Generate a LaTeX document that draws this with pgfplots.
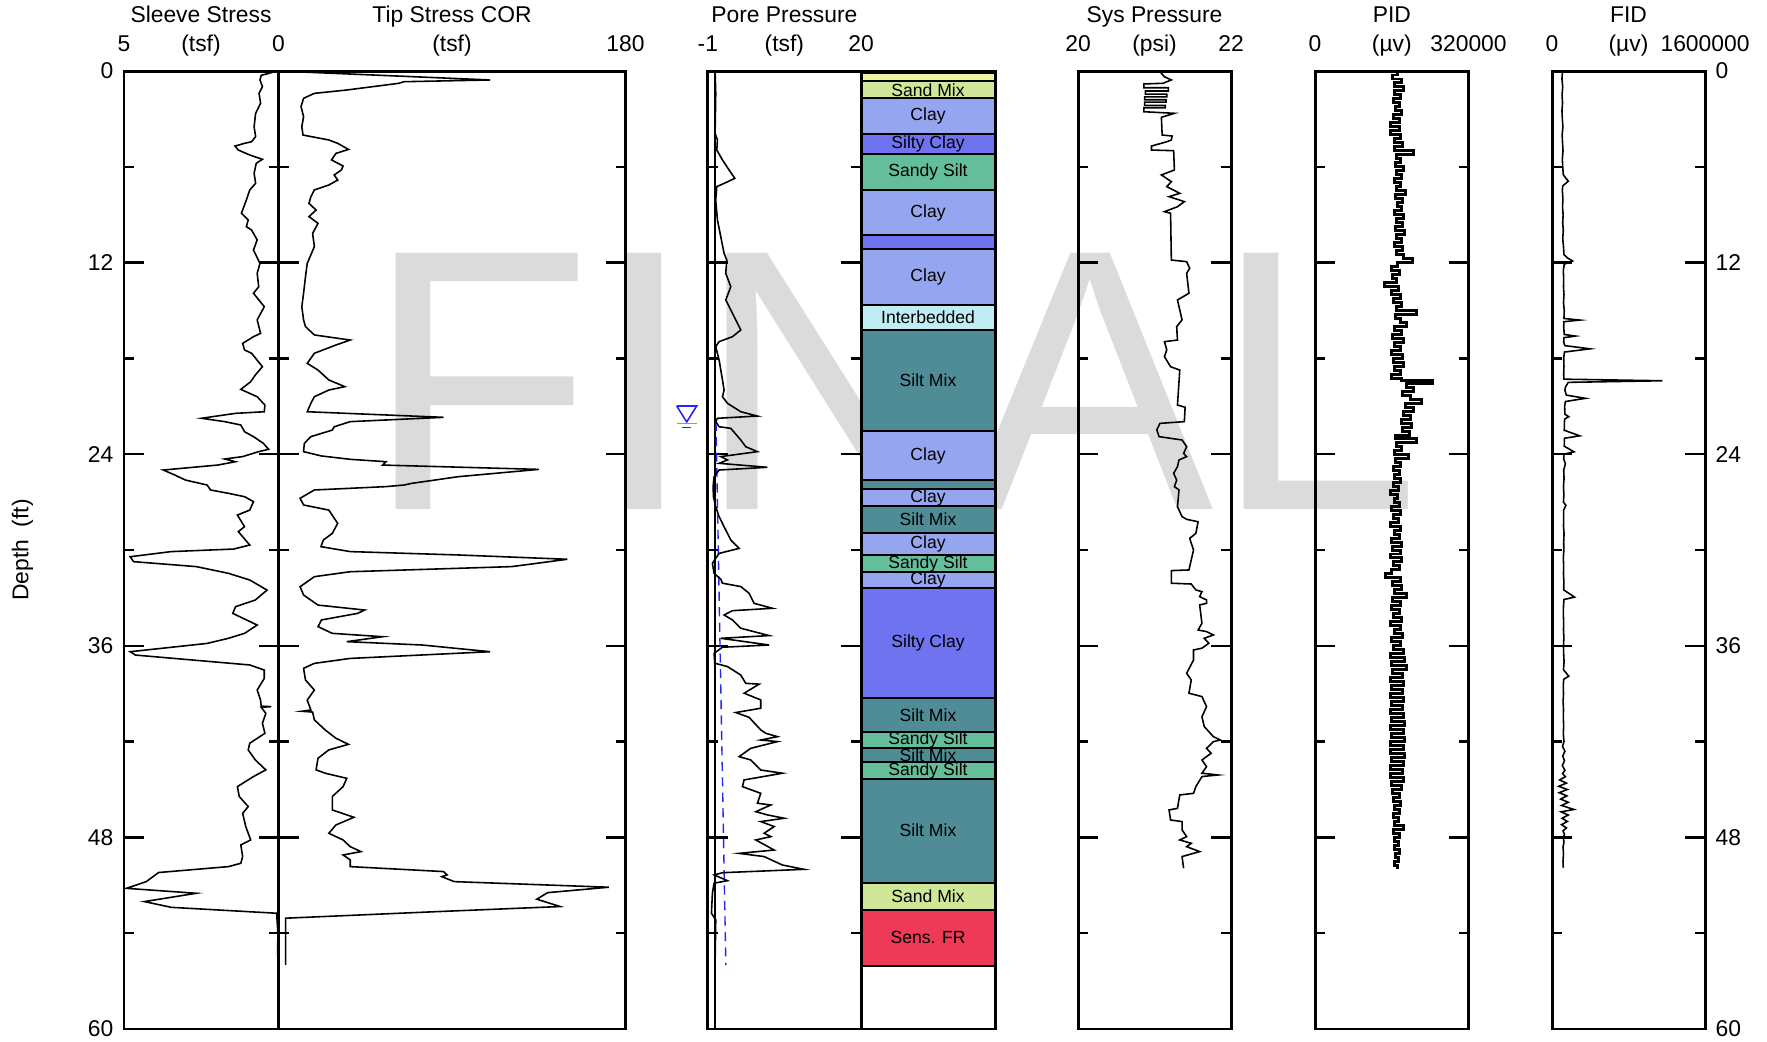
\documentclass[border=0pt]{standalone}
\usepackage{pgfplots}
\pgfplotsset{compat=1.18}
\usepackage{fontspec}
\setmainfont{Liberation Sans}
\definecolor{wm}{HTML}{DBDBDB}
\definecolor{cClay}{HTML}{95A5EF}
\definecolor{cSiltyClay}{HTML}{7073F0}
\definecolor{cSandySilt}{HTML}{64BE9B}
\definecolor{cSiltMix}{HTML}{4F8C96}
\definecolor{cInter}{HTML}{C0ECF4}
\definecolor{cSandMix}{HTML}{D0E698}
\definecolor{cSens}{HTML}{EE3A56}
\definecolor{cSand}{HTML}{F2F2A0}
\definecolor{wtblue}{HTML}{2626F2}
\newcommand\hdr{\fontsize{6.5}{7.8}\selectfont}
\newcommand\soil{\fontsize{5}{6}\selectfont}
\pgfplotsset{
  logpanel/.style={
    scale only axis, height=9.58cm,
    ymin=0, ymax=60, y dir=reverse,
    axis line style={line width=0.85pt},
    ytick={0,12,24,36,48,60}, minor ytick={6,18,30,42,54},
    yticklabels={}, xtick=\empty,
    tick align=inside, ytick pos=both, xtick pos=both,
    major tick length=0.2cm, minor tick length=0.1cm,
    tick style={black, line width=0.7pt},
    yticklabel style={font=\hdr, inner xsep=0.1cm, inner ysep=0pt},
    /pgf/number format/assume math mode=true,
    every axis plot/.append style={line width=0.45pt},
  },
  layer/.style={fill=#1, draw=black, line width=0.6pt},
}
\begin{document}
\begin{tikzpicture}
\path[use as bounding box] (0,0) rectangle (17.67,10.41);
% watermark
\node[text=wm, font=\fontsize{106}{110}\selectfont, inner sep=0pt, anchor=center] at (8.93,6.595) {FINAL};

% ---------------- Sleeve stress
\begin{axis}[logpanel, at={(1.24cm,9.70cm)}, anchor=north west, width=1.545cm,
  xmin=0, xmax=5, x dir=reverse,
  yticklabels={0,12,24,36,48,60}, yticklabel pos=left]
\addplot[black] table[x index=1, y index=0] {
0.00 0.02
0.27 0.56
0.56 0.60
0.98 0.52
1.40 0.63
2.02 0.58
2.65 0.74
3.49 0.79
4.11 0.74
4.43 0.87
4.53 1.10
4.70 1.41
4.95 1.30
5.26 0.93
5.53 0.52
5.78 0.72
6.41 0.79
7.03 0.74
7.45 0.93
8.08 1.04
8.91 1.20
9.33 0.98
9.75 1.04
9.96 0.87
10.58 0.69
11.21 0.81
12.05 0.60
12.67 0.69
13.51 0.64
13.92 0.81
14.76 0.46
15.59 0.69
16.43 0.58
16.64 0.81
17.06 1.16
17.47 1.10
17.68 0.87
18.52 0.52
19.04 0.75
19.46 0.90
19.94 1.22
20.40 0.69
20.92 0.44
21.34 0.46
21.44 1.39
21.75 2.49
21.96 1.74
22.17 1.22
22.59 1.10
22.90 0.81
23.32 0.49
23.69 0.32
23.84 0.64
24.15 1.16
24.30 1.74
24.47 1.39
24.68 1.97
24.99 3.73
25.30 3.36
25.62 3.01
25.93 2.31
26.24 2.20
26.45 1.62
26.66 1.10
26.97 0.81
27.50 0.93
27.81 1.33
28.54 1.10
28.85 1.30
29.69 0.93
29.94 1.45
30.10 3.47
30.42 4.80
30.73 4.69
31.04 2.66
31.46 1.62
31.88 0.93
32.51 0.37
33.13 0.75
33.55 1.39
33.97 1.48
34.70 0.69
35.22 1.10
35.53 1.62
35.85 2.31
36.37 4.80
36.58 4.63
37.20 0.93
37.52 0.46
38.04 0.46
38.77 0.69
39.40 0.58
39.78 0.56
39.81 0.23
39.85 0.56
40.23 0.41
40.85 0.52
41.48 0.44
42.10 0.93
42.52 0.98
43.15 0.75
43.77 0.41
44.19 0.81
44.82 1.33
45.44 1.27
46.07 0.98
46.49 1.16
47.32 1.06
48.16 0.90
48.47 1.22
49.20 1.16
49.62 1.22
49.83 1.62
50.20 3.88
50.77 4.28
51.19 4.92
51.50 2.66
52.02 4.34
52.38 3.47
52.75 0.06
54.00 0.02
55.47 0.03
};
\end{axis}

% ---------------- Tip stress
\begin{axis}[logpanel, at={(2.785cm,9.70cm)}, anchor=north west, width=3.47cm,
  xmin=0, xmax=180, minor xtick={18,36,54,72,90,108,126,144,162}]
\addplot[black] table[x index=1, y index=0] {
0.00 0.0
0.56 109.8
0.67 65.1
0.77 62.4
1.19 35.4
1.40 18.6
1.71 13.0
2.23 11.7
2.86 13.0
3.49 12.1
4.01 12.7
4.32 26.1
4.53 30.7
4.91 36.3
5.16 29.8
5.57 27.5
5.95 33.5
6.20 32.6
6.51 28.9
6.83 30.7
7.14 26.1
7.45 18.6
7.87 16.8
8.29 15.8
8.71 19.5
9.12 15.8
9.54 20.5
10.17 17.7
11.00 18.6
12.05 14.9
12.88 14.0
13.92 13.0
14.76 12.1
15.59 13.0
16.01 14.0
16.53 18.6
16.85 37.2
17.16 29.8
17.68 18.6
18.31 14.9
18.73 20.5
19.35 26.1
19.77 34.4
19.98 26.1
20.40 18.6
20.81 16.8
21.34 14.9
21.69 85.6
21.96 37.2
22.28 28.9
22.49 27.9
22.90 16.8
23.32 13.4
23.84 13.0
24.11 22.3
24.32 37.2
24.47 55.8
24.68 54.0
24.95 135.0
25.41 93.1
25.83 68.9
25.93 65.1
26.03 55.8
26.24 18.6
26.76 11.2
27.18 13.0
27.50 26.1
28.33 30.7
28.96 27.9
29.37 23.3
29.79 22.0
30.10 37.2
30.31 93.1
30.58 149.8
31.04 121.0
31.36 37.2
31.67 18.6
32.30 11.2
32.82 13.0
33.45 20.5
33.76 44.7
33.97 41.0
34.38 22.3
34.80 20.5
35.22 27.9
35.43 54.0
35.74 35.4
35.95 74.5
36.37 109.8
36.79 37.2
37.10 18.6
37.41 13.0
38.14 14.0
38.77 18.6
39.40 14.9
40.02 16.8
40.10 12.1
40.15 17.7
40.64 18.6
41.27 24.2
41.79 29.8
42.17 36.3
42.52 26.1
43.04 20.5
43.77 19.5
43.98 24.2
44.30 35.4
44.82 33.5
45.44 27.9
46.28 27.9
46.74 39.1
47.22 29.8
47.74 26.1
48.16 33.5
48.58 37.2
48.89 42.8
49.10 33.5
49.41 37.2
49.83 37.2
50.14 85.6
50.35 87.5
50.46 84.7
50.77 91.2
51.12 171.3
51.46 139.6
51.87 134.0
52.33 146.1
52.65 81.9
53.06 3.7
55.99 3.7
};
\end{axis}

% ---------------- Pore pressure
\begin{axis}[logpanel, at={(7.078cm,9.70cm)}, anchor=north west, width=1.532cm,
  xmin=-1, xmax=20, clip=false]
\addplot[black, line width=0.35pt] coordinates {(0,0) (0,60)};
\addplot[wtblue, dashed, dash pattern=on 2.6pt off 1.8pt, line width=0.4pt] coordinates {(0.12,21.96) (1.47,56.0)};
\addplot[wtblue, line width=0.45pt] coordinates {(-5.26,20.98) (-2.52,20.98) (-3.89,21.98) (-5.26,20.98)};
\addplot[wtblue!55, line width=0.5pt] coordinates {(-5.26,22.08) (-2.52,22.08)};
\addplot[wtblue, line width=0.45pt] coordinates {(-4.58,22.33) (-3.30,22.33)};
\addplot[black] table[x index=1, y index=0] {
0.00 0.00
1.40 0.09
3.90 0.00
4.32 0.32
4.95 0.23
5.57 1.01
6.20 1.92
6.72 2.70
6.99 1.46
7.24 0.23
8.08 0.09
9.33 0.32
10.38 0.78
11.42 1.23
11.84 1.60
12.67 1.46
13.51 2.15
14.34 1.46
15.18 2.38
16.22 3.52
16.64 2.38
16.95 0.55
17.26 0.09
18.10 0.55
18.73 0.78
19.35 1.01
19.98 1.23
20.40 1.01
20.81 1.69
21.34 3.52
21.61 5.80
21.75 0.32
21.96 0.09
22.28 0.55
22.38 2.15
23.11 3.52
23.53 4.20
23.84 5.80
24.15 0.78
24.36 1.69
24.57 0.55
24.82 7.17
24.99 0.55
25.41 -0.14
26.03 -0.27
26.66 -0.23
27.29 0.09
27.91 0.55
28.54 1.23
29.37 2.15
29.90 3.29
30.21 0.55
30.83 -0.37
31.46 -0.14
31.83 0.78
32.08 1.01
32.29 3.52
32.71 4.66
33.34 5.35
33.65 7.86
33.80 2.38
34.07 1.23
34.38 2.38
34.90 3.52
35.36 7.40
35.53 0.78
35.95 7.40
36.09 1.01
36.47 -0.14
37.09 -0.05
37.30 1.69
37.83 3.52
38.35 4.20
38.40 6.03
38.97 3.98
39.39 6.26
39.91 6.26
40.18 2.83
40.48 4.66
41.27 6.26
41.48 6.95
41.69 8.55
41.90 6.26
42.00 8.55
42.42 4.89
42.94 3.29
43.15 4.89
43.78 6.26
43.98 9.23
44.40 3.98
44.82 3.75
45.24 6.26
45.86 5.80
45.97 7.63
46.39 5.58
46.59 7.17
46.80 9.46
47.01 6.26
47.32 8.09
47.74 6.72
47.95 7.63
48.16 5.58
48.79 8.09
49.00 3.29
49.20 6.72
49.73 9.23
50.00 12.20
50.21 1.01
50.35 -0.14
50.71 1.69
50.87 -0.14
51.50 -0.37
52.75 -0.50
53.17 0.09
55.88 0.00
};
\end{axis}

% ---------------- Soil behaviour column
\begin{axis}[scale only axis, at={(8.61cm,9.70cm)}, anchor=north west, width=1.34cm, height=9.58cm,
  xmin=0, xmax=1, ymin=0, ymax=60, y dir=reverse, xtick=\empty, ytick=\empty,
  axis line style={line width=0.85pt}, axis on top]
\addplot[layer=cSand] coordinates {(0,0.15) (1,0.15) (1,0.65) (0,0.65) (0,0.15)};
\addplot[layer=cSandMix] coordinates {(0,0.65) (1,0.65) (1,1.71) (0,1.71) (0,0.65)};
\addplot[layer=cClay] coordinates {(0,1.71) (1,1.71) (1,3.97) (0,3.97) (0,1.71)};
\addplot[layer=cSiltyClay] coordinates {(0,3.97) (1,3.97) (1,5.22) (0,5.22) (0,3.97)};
\addplot[layer=cSandySilt] coordinates {(0,5.22) (1,5.22) (1,7.45) (0,7.45) (0,5.22)};
\addplot[layer=cClay] coordinates {(0,7.45) (1,7.45) (1,10.27) (0,10.27) (0,7.45)};
\addplot[layer=cSiltyClay] coordinates {(0,10.27) (1,10.27) (1,11.15) (0,11.15) (0,10.27)};
\addplot[layer=cClay] coordinates {(0,11.15) (1,11.15) (1,14.66) (0,14.66) (0,11.15)};
\addplot[layer=cInter] coordinates {(0,14.66) (1,14.66) (1,16.22) (0,16.22) (0,14.66)};
\addplot[layer=cSiltMix] coordinates {(0,16.22) (1,16.22) (1,22.53) (0,22.53) (0,16.22)};
\addplot[layer=cClay] coordinates {(0,22.53) (1,22.53) (1,25.62) (0,25.62) (0,22.53)};
\addplot[layer=cSiltMix] coordinates {(0,25.62) (1,25.62) (1,26.18) (0,26.18) (0,25.62)};
\addplot[layer=cClay] coordinates {(0,26.18) (1,26.18) (1,27.24) (0,27.24) (0,26.18)};
\addplot[layer=cSiltMix] coordinates {(0,27.24) (1,27.24) (1,28.91) (0,28.91) (0,27.24)};
\addplot[layer=cClay] coordinates {(0,28.91) (1,28.91) (1,30.33) (0,30.33) (0,28.91)};
\addplot[layer=cSandySilt] coordinates {(0,30.33) (1,30.33) (1,31.36) (0,31.36) (0,30.33)};
\addplot[layer=cClay] coordinates {(0,31.36) (1,31.36) (1,32.36) (0,32.36) (0,31.36)};
\addplot[layer=cSiltyClay] coordinates {(0,32.36) (1,32.36) (1,39.25) (0,39.25) (0,32.36)};
\addplot[layer=cSiltMix] coordinates {(0,39.25) (1,39.25) (1,41.38) (0,41.38) (0,39.25)};
\addplot[layer=cSandySilt] coordinates {(0,41.38) (1,41.38) (1,42.38) (0,42.38) (0,41.38)};
\addplot[layer=cSiltMix] coordinates {(0,42.38) (1,42.38) (1,43.30) (0,43.30) (0,42.38)};
\addplot[layer=cSandySilt] coordinates {(0,43.30) (1,43.30) (1,44.34) (0,44.34) (0,43.30)};
\addplot[layer=cSiltMix] coordinates {(0,44.34) (1,44.34) (1,50.83) (0,50.83) (0,44.34)};
\addplot[layer=cSandMix] coordinates {(0,50.83) (1,50.83) (1,52.55) (0,52.55) (0,50.83)};
\addplot[layer=cSens] coordinates {(0,52.55) (1,52.55) (1,56.03) (0,56.03) (0,52.55)};
\begin{scope}[every node/.style={font=\soil, inner sep=0pt}]
\node at (axis cs:0.5,1.18) {Sand Mix};
\node at (axis cs:0.5,2.84) {Clay};
\node at (axis cs:0.5,4.60) {Silty Clay};
\node at (axis cs:0.5,6.34) {Sandy Silt};
\node at (axis cs:0.5,8.86) {Clay};
\node at (axis cs:0.5,12.90) {Clay};
\node at (axis cs:0.5,15.44) {Interbedded};
\node at (axis cs:0.5,19.38) {Silt Mix};
\node at (axis cs:0.5,24.08) {Clay};
\node at (axis cs:0.5,26.71) {Clay};
\node at (axis cs:0.5,28.08) {Silt Mix};
\node at (axis cs:0.5,29.62) {Clay};
\node at (axis cs:0.5,30.85) {Sandy Silt};
\node at (axis cs:0.5,31.86) {Clay};
\node at (axis cs:0.5,35.80) {Silty Clay};
\node at (axis cs:0.5,40.32) {Silt Mix};
\node at (axis cs:0.5,41.88) {Sandy Silt};
\node at (axis cs:0.5,42.84) {Silt Mix};
\node at (axis cs:0.5,43.82) {Sandy Silt};
\node at (axis cs:0.5,47.58) {Silt Mix};
\node at (axis cs:0.5,51.69) {Sand Mix};
\node at (axis cs:0.5,54.29) {Sens. FR};
\end{scope}
\end{axis}

% ---------------- Sys pressure
\begin{axis}[logpanel, at={(10.78cm,9.70cm)}, anchor=north west, width=1.53cm,
  xmin=20, xmax=22]
\addplot[black] table[x index=1, y index=0] {
0.04 21.07
0.36 21.13
0.56 21.22
0.77 21.11
0.81 20.86
1.05 20.86
1.05 21.18
1.25 21.18
1.25 20.88
1.45 20.88
1.45 21.16
1.62 21.16
1.62 20.87
1.80 20.87
1.80 21.15
1.95 21.15
1.95 20.87
2.15 20.87
2.15 21.14
2.30 21.14
2.30 20.86
2.55 20.86
2.61 21.10
2.65 21.26
2.90 21.09
4.01 21.10
4.07 21.23
4.32 21.22
4.43 21.16
4.70 20.96
4.95 20.96
4.99 21.25
6.20 21.26
6.51 21.09
6.93 21.22
7.24 21.16
7.66 21.33
7.87 21.19
8.18 21.39
8.50 21.30
8.81 21.13
8.91 21.21
11.84 21.22
11.94 21.42
12.36 21.46
12.67 21.42
13.92 21.45
14.34 21.30
15.59 21.36
16.01 21.29
16.85 21.30
16.95 21.13
17.47 21.16
17.89 21.13
18.52 21.21
18.73 21.33
20.92 21.30
21.06 21.40
21.96 21.39
22.07 21.07
22.48 21.03
22.90 21.06
23.11 21.36
23.53 21.42
23.95 21.38
24.15 21.42
24.36 21.32
24.78 21.30
25.20 21.25
25.62 21.29
26.03 21.26
26.24 21.32
27.29 21.30
27.91 21.36
28.08 21.42
28.23 21.57
28.96 21.54
29.27 21.46
30.00 21.51
30.62 21.48
31.25 21.45
31.29 21.22
32.08 21.22
32.13 21.48
32.50 21.54
32.61 21.62
32.92 21.59
33.13 21.68
33.34 21.68
33.44 21.59
34.59 21.62
35.01 21.57
35.11 21.68
35.32 21.77
35.53 21.65
35.84 21.71
36.15 21.62
36.26 21.51
36.89 21.51
37.72 21.42
38.14 21.48
38.97 21.45
39.18 21.62
39.81 21.68
40.44 21.62
41.06 21.65
41.69 21.77
41.90 21.86
42.00 21.77
42.42 21.68
42.73 21.74
43.15 21.62
43.57 21.68
43.98 21.62
44.09 21.83
44.19 21.62
44.82 21.54
45.24 21.51
45.34 21.33
46.18 21.30
46.28 21.19
46.91 21.21
47.01 21.36
47.53 21.36
47.95 21.42
48.16 21.33
48.37 21.48
48.58 21.42
48.89 21.59
49.20 21.36
49.93 21.38
};
\end{axis}

% ---------------- PID
\begin{axis}[logpanel, at={(13.15cm,9.70cm)}, anchor=north west, width=1.535cm,
  xmin=0, xmax=320000]
\addplot[black, const plot mark right, line width=0.85pt] table[x index=1, y index=0] {
0.00 172000
0.25 162000
0.50 180000
0.75 165000
1.00 185000
1.25 166000
1.50 178000
1.75 164000
2.00 176000
2.25 168000
2.50 180000
2.75 163000
3.00 177000
3.25 158000
3.50 176000
3.75 157000
4.00 178000
4.25 165000
4.50 182000
4.75 166000
5.00 205000
5.25 170000
5.50 178000
5.75 168000
6.00 184000
6.25 170000
6.50 180000
6.75 166000
7.00 178000
7.25 170000
7.50 188000
7.75 168000
8.00 182000
8.25 172000
8.50 180000
8.75 166000
9.00 184000
9.25 170000
9.50 182000
9.75 168000
10.00 186000
10.25 170000
10.50 180000
10.75 166000
11.00 182000
11.25 170000
11.50 184000
11.75 203000
12.00 172000
12.25 160000
12.50 176000
12.75 162000
13.00 170000
13.25 145000
13.50 175000
13.75 160000
14.00 178000
14.25 163000
14.50 180000
14.75 170000
15.00 212000
15.25 168000
15.50 178000
15.75 190000
16.00 165000
16.25 180000
16.50 162000
16.75 184000
17.00 166000
17.25 178000
17.50 160000
17.75 182000
18.00 163000
18.25 185000
18.50 165000
18.75 178000
19.00 160000
19.25 180000
19.40 245000
19.60 190000
19.85 205000
20.10 182000
20.35 200000
20.60 222000
20.85 188000
21.10 206000
21.35 184000
21.60 198000
21.85 180000
22.10 202000
22.35 182000
22.60 196000
22.85 168000
23.00 212000
23.25 170000
23.50 180000
23.75 165000
24.00 195000
24.25 168000
24.50 178000
24.75 164000
25.00 176000
25.25 166000
25.50 178000
25.75 163000
26.00 174000
26.25 158000
26.50 172000
26.75 165000
27.00 176000
27.25 160000
27.50 178000
27.75 164000
28.00 174000
28.25 158000
28.50 178000
28.75 165000
29.00 176000
29.25 160000
29.50 180000
29.75 162000
30.00 178000
30.25 158000
30.50 180000
30.75 163000
31.00 176000
31.25 160000
31.50 147000
31.75 178000
32.00 162000
32.25 180000
32.50 165000
32.75 190000
33.00 162000
33.25 178000
33.50 160000
33.75 176000
34.00 164000
34.25 180000
34.50 158000
34.75 178000
35.00 166000
35.25 182000
35.50 160000
35.75 178000
36.00 164000
36.25 184000
36.50 158000
36.75 186000
37.00 160000
37.25 190000
37.50 162000
37.75 182000
38.00 158000
38.25 184000
38.50 160000
38.75 182000
39.00 157000
39.25 184000
39.50 160000
39.75 182000
40.00 158000
40.25 184000
40.50 160000
40.75 186000
41.00 157000
41.25 184000
41.50 160000
41.75 186000
42.00 158000
42.25 184000
42.50 157000
42.75 186000
43.00 160000
43.25 184000
43.50 158000
43.75 182000
44.00 157000
44.25 184000
44.50 160000
44.75 180000
45.00 162000
45.25 176000
45.50 164000
45.75 178000
46.00 166000
46.25 176000
46.50 163000
46.75 175000
47.00 166000
47.25 184000
47.50 164000
47.75 176000
48.00 166000
48.25 174000
48.50 165000
48.75 176000
49.00 167000
49.25 174000
49.50 166000
49.75 172000
49.90 168000
};
\end{axis}

% ---------------- FID
\begin{axis}[logpanel, at={(15.52cm,9.70cm)}, anchor=north west, width=1.53cm,
  xmin=0, xmax=1600000,
  yticklabels={0,12,24,36,48,60}, yticklabel pos=right]
\addplot[black] table[x index=1, y index=0] {
0.0 110000
0.5 104000
1.0 112000
1.5 105000
2.0 110000
2.5 104000
3.0 108000
3.5 114000
4.0 106000
4.5 110000
5.0 115000
5.5 108000
6.0 112000
6.5 118000
6.9 170000
7.2 112000
7.5 108000
8.0 114000
8.5 110000
9.0 116000
9.5 112000
10.0 118000
10.5 112000
11.0 120000
11.5 125000
11.7 160000
11.9 215000
12.1 128000
12.5 118000
13.0 122000
13.5 120000
14.0 125000
14.5 120000
15.0 128000
15.5 125000
15.6 290000
15.7 125000
16.0 122000
16.5 128000
16.6 245000
16.7 125000
17.0 122000
17.2 135000
17.4 398000
17.6 130000
18.0 122000
18.5 125000
19.0 122000
19.3 125000
19.4 1155000
19.5 170000
19.8 140000
20.0 135000
20.3 150000
20.5 350000
20.7 140000
21.0 132000
21.5 135000
21.65 175000
21.8 132000
22.0 130000
22.5 128000
22.85 290000
23.0 130000
23.5 128000
23.85 230000
24.0 125000
24.3 122000
24.6 140000
25.0 122000
25.5 126000
26.0 120000
26.5 124000
27.0 120000
27.2 145000
27.5 122000
28.0 122000
28.5 120000
29.0 126000
29.5 122000
30.0 124000
30.5 118000
31.0 122000
31.5 120000
32.0 124000
32.5 122000
32.95 235000
33.1 125000
33.5 120000
34.0 118000
34.5 122000
35.0 120000
35.5 124000
36.0 120000
36.5 122000
37.0 126000
37.5 120000
37.9 175000
38.1 122000
38.5 118000
39.0 120000
39.5 116000
40.0 120000
40.5 118000
41.0 122000
41.5 118000
42.0 125000
42.3 110000
42.6 135000
42.9 112000
43.2 130000
43.5 108000
43.8 135000
44.0 110000
44.2 140000
44.4 80000
44.6 150000
44.8 70000
45.0 160000
45.2 75000
45.4 155000
45.6 90000
45.8 170000
46.0 100000
46.25 229000
46.4 95000
46.6 170000
46.8 105000
47.0 160000
47.2 100000
47.4 150000
47.6 115000
47.8 130000
48.0 118000
48.3 125000
48.6 115000
49.0 120000
49.5 115000
49.9 118000
};
\end{axis}

% ---------------- headers
\begin{scope}[every node/.style={font=\hdr, anchor=base, inner sep=0pt}]
\node at (2.01,10.185) {Sleeve Stress};
\node at (4.52,10.185) {Tip Stress COR};
\node at (7.844,10.185) {Pore Pressure};
\node at (11.545,10.185) {Sys Pressure};
\node at (13.918,10.185) {PID};
\node at (16.285,10.185) {FID};
\node at (1.24,9.89) {5};
\node at (2.01,9.89) {(tsf)};
\node at (2.785,9.89) {0};
\node at (4.52,9.89) {(tsf)};
\node at (6.255,9.89) {180};
\node at (7.078,9.89) {-1};
\node at (7.844,9.89) {(tsf)};
\node at (8.61,9.89) {20};
\node at (10.78,9.89) {20};
\node at (11.545,9.89) {(psi)};
\node at (12.31,9.89) {22};
\node at (13.15,9.89) {0};
\node at (13.918,9.89) {(µv)};
\node at (14.685,9.89) {320000};
\node at (15.52,9.89) {0};
\node at (16.285,9.89) {(µv)};
\node at (17.05,9.89) {1600000};
\end{scope}
\node[font=\hdr, rotate=90, anchor=center, inner sep=0pt] at (0.225,4.91) {Depth\ \ (ft)};
\end{tikzpicture}
\end{document}
